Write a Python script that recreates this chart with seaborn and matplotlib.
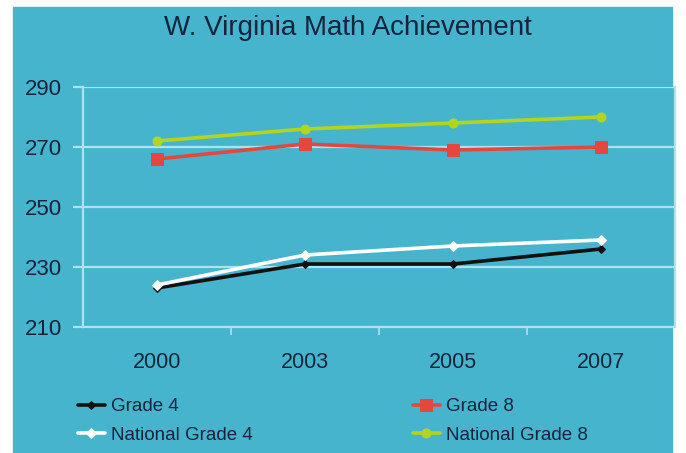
import matplotlib
matplotlib.use("Agg")
import matplotlib.pyplot as plt
import seaborn as sns
import pandas as pd
from matplotlib.patches import Rectangle

years = ["2000", "2003", "2005", "2007"]
grade4 = [223, 231, 231, 236]
grade8 = [266, 271, 269, 270]
national_grade4 = [224, 234, 237, 239]
national_grade8 = [272, 276, 278, 280]
series_names = ["Grade 4", "National Grade 4", "Grade 8", "National Grade 8"]

df = pd.DataFrame({
    "year": years * 4,
    "score": grade4 + national_grade4 + grade8 + national_grade8,
    "series": [s for s in series_names for _ in years],
})

BG = "#47b4cd"
GRID = "#a9e4f2"
TEXT = "#14243a"

sns.set_theme(style="white")
plt.rcParams["font.family"] = ["Liberation Sans", "DejaVu Sans"]

fig = plt.figure(figsize=(6.86, 4.53), dpi=100)
fig.patch.set_facecolor("white")
fig.add_artist(Rectangle((13 / 686, 0), (672 - 13) / 686, (453 - 7) / 453,
                         transform=fig.transFigure, color=BG, zorder=0))

ax = fig.add_axes([83 / 686, 1 - 327 / 453, (675 - 83) / 686, (327 - 87) / 453])
ax.set_facecolor(BG)

palette = {"Grade 4": "#111111", "National Grade 4": "#ffffff",
           "Grade 8": "#e5473f", "National Grade 8": "#b3d51c"}
markers = {"Grade 4": "D", "National Grade 4": "D",
           "Grade 8": "s", "National Grade 8": "o"}
sizes = {"Grade 4": 4, "National Grade 4": 5, "Grade 8": 9, "National Grade 8": 6.5}

for name in series_names:
    sub = df[df["series"] == name]
    sns.lineplot(data=sub, x="year", y="score", ax=ax, color=palette[name],
                 marker=markers[name], markersize=sizes[name],
                 markeredgecolor=palette[name], linewidth=2.6, label=name,
                 sort=False, zorder=3)

ax.set_ylim(210, 290)
ax.set_yticks([210, 230, 250, 270, 290])
ax.set_xlim(-0.5, 3.5)
ax.yaxis.grid(True, color=GRID, linewidth=1.6)
ax.set_axisbelow(True)
for side in ["left", "right", "bottom"]:
    ax.spines[side].set_visible(True)
    ax.spines[side].set_color(GRID)
    ax.spines[side].set_linewidth(1.6)
ax.spines["top"].set_visible(False)

ax.tick_params(axis="y", length=7, width=1.6, color=GRID, labelsize=16,
               labelcolor=TEXT, pad=8, left=True)
ax.set_xticks([0.5, 1.5, 2.5], minor=True)
ax.tick_params(axis="x", which="major", length=0, labelsize=15.5,
               labelcolor=TEXT, pad=18)
ax.tick_params(axis="x", which="minor", length=6, width=1.2, color=GRID,
               bottom=True)
ax.set_xlabel("")
ax.set_ylabel("")

fig.text(348 / 686, 1 - 28 / 453, "W. Virginia Math Achievement",
         ha="center", va="center", fontsize=20, color=TEXT)

handles, labels = ax.get_legend_handles_labels()
ax.legend_.remove()
fig.legend(handles, labels, ncol=2, loc="center left",
           bbox_to_anchor=(61 / 686, 1 - 421 / 453), frameon=False,
           fontsize=13.5, labelcolor=TEXT, handlelength=1.45,
           handletextpad=0.3, columnspacing=8.55, labelspacing=0.6)

fig.savefig("out.png", dpi=100)
